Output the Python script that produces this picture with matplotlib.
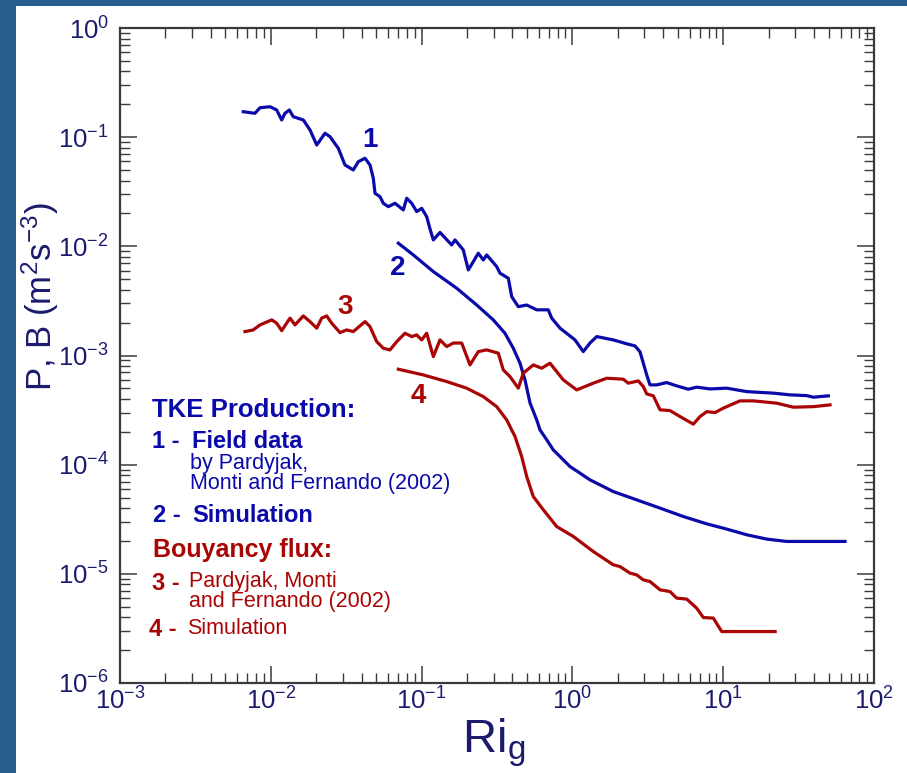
import matplotlib
matplotlib.use("Agg")
import matplotlib.pyplot as plt
from matplotlib.patches import Rectangle
from matplotlib.ticker import LogLocator, NullFormatter

plt.rcParams['font.family'] = ['Liberation Sans', 'DejaVu Sans']
plt.rcParams['mathtext.fontset'] = 'custom'
plt.rcParams['mathtext.rm'] = 'Liberation Sans'
plt.rcParams['mathtext.it'] = 'Liberation Sans:italic'
plt.rcParams['mathtext.bf'] = 'Liberation Sans:bold'

# ---- data: curve 1, TKE production, field data ----
field_p_x = [0.00657, 0.00785, 0.00848, 0.00988, 0.01094, 0.01181, 0.01242, 0.01327, 0.01409,
             0.01643, 0.0182, 0.02016, 0.02288, 0.0247, 0.02803, 0.03105, 0.03524, 0.03805,
             0.04214, 0.04548, 0.04783, 0.0491, 0.05298, 0.0557, 0.06013, 0.06662, 0.07562,
             0.07965, 0.086, 0.0928, 0.1002, 0.1081, 0.1137, 0.1196, 0.1324, 0.1583, 0.1665,
             0.189, 0.204, 0.2203, 0.2377, 0.2566, 0.2702, 0.3148, 0.3311, 0.3758, 0.3958,
             0.4377, 0.4977, 0.58, 0.692, 0.729, 0.828, 1.04, 1.181, 1.308, 1.449, 1.867,
             2.292, 2.601, 2.808, 2.953, 3.11, 3.27, 3.62, 4.22, 4.915, 5.87, 6.67, 8.18,
             10.55, 14.31, 21.5, 27.7, 35.8, 39.6, 49.8]
field_p_y = [0.171, 0.1655, 0.186, 0.190, 0.1775, 0.1437, 0.1655, 0.1775, 0.154,
             0.1437, 0.1164, 0.0848, 0.1086, 0.101, 0.0791, 0.0556, 0.0501, 0.0596,
             0.0641, 0.0556, 0.0420, 0.0306, 0.0285, 0.0248, 0.0231, 0.0248, 0.02154,
             0.02757, 0.0248, 0.0208, 0.0223, 0.0187, 0.01443, 0.01145, 0.01341, 0.0103, 0.01145,
             0.00927, 0.00608, 0.00724, 0.00865, 0.0075, 0.00834, 0.00652, 0.00567, 0.0051, 0.00346,
             0.0028, 0.0029, 0.00262, 0.00262, 0.0022, 0.00178, 0.00139, 0.001086, 0.0013, 0.00149, 0.00139,
             0.00128, 0.001224, 0.00108, 0.00085, 0.000664, 0.000538, 0.000538, 0.000565, 0.000527,
             0.000491, 0.000513, 0.000494, 0.000502, 0.000467, 0.000452, 0.000436, 0.000429,
             0.000415, 0.000427]

# ---- curve 2, TKE production, simulation ----
sim_p_x = [0.0701, 0.0881, 0.1196, 0.171, 0.232, 0.2988, 0.357, 0.4055, 0.4493, 0.485,
           0.5234, 0.58, 0.61, 0.6755, 0.7467, 0.828, 0.964, 1.123, 1.308, 1.867, 2.669,
           3.81, 5.44, 7.78, 10.55, 14.31, 19.44, 26.4, 39.6, 64.2]
sim_p_y = [0.01068, 0.00834, 0.00587, 0.00413, 0.0029, 0.00212, 0.0016, 0.001166, 0.00085,
           0.000598, 0.000368, 0.000257, 0.000208, 0.000169, 0.0001366, 0.0001186, 9.61e-5,
           8.36e-5, 7.26e-5, 5.67e-5, 4.76e-5, 4.0e-5, 3.35e-5, 2.87e-5, 2.57e-5, 2.28e-5,
           2.08e-5, 1.98e-5, 1.98e-5, 1.98e-5]

# ---- curve 3, buoyancy flux, field data ----
field_b_x = [0.00674, 0.00766, 0.00848, 0.01014, 0.01094, 0.01181, 0.01341, 0.01447, 0.01643,
             0.0182, 0.02016, 0.02175, 0.02348, 0.02534, 0.02877, 0.03187, 0.03524, 0.04214,
             0.04548, 0.05039, 0.0557, 0.06172, 0.0684, 0.0776, 0.086, 0.0928, 0.1002, 0.1081,
             0.1196, 0.1324, 0.1467, 0.1623, 0.1845, 0.2094, 0.2377, 0.2702, 0.3226, 0.348,
             0.3857, 0.4377, 0.4724, 0.5505, 0.6257, 0.7103, 0.870, 1.068, 1.376, 1.688, 2.175,
             2.348, 2.735, 2.953, 3.11, 3.44, 3.81, 4.437, 5.17, 6.34, 7.02, 7.78, 8.82, 10.0,
             12.92, 15.83, 22.6, 29.2, 39.6, 51.1]
field_b_y = [0.001656, 0.001716, 0.001906, 0.00212, 0.001976, 0.00169, 0.0022, 0.001906, 0.002305,
             0.002044, 0.00178, 0.0022, 0.002305, 0.001976, 0.00162, 0.001716, 0.001656, 0.002044,
             0.00184, 0.00134, 0.001166, 0.001125, 0.00134, 0.0016, 0.00149, 0.001544, 0.00139, 0.0016,
             0.000977, 0.00139, 0.001207, 0.0013, 0.0013, 0.00082, 0.001086, 0.001125, 0.00105, 0.000738,
             0.000641, 0.000502, 0.000689, 0.00082, 0.000765, 0.00085, 0.000598, 0.000484, 0.000558,
             0.000619, 0.000607, 0.000558, 0.000585, 0.000519, 0.000445, 0.000427, 0.000318, 0.000313,
             0.000276, 0.000235, 0.000276, 0.000306, 0.0003, 0.000329, 0.000384, 0.000384, 0.000366,
             0.000336, 0.00034, 0.000353]

# ---- curve 4, buoyancy flux, simulation ----
sim_b_x = [0.0701, 0.1026, 0.1467, 0.199, 0.2566, 0.3148, 0.3667, 0.4164, 0.4611, 0.4977,
           0.5505, 0.6414, 0.787, 1.014, 1.376, 1.867, 2.068, 2.41, 2.669, 2.953, 3.27, 3.81,
           4.437, 4.915, 5.73, 6.67, 7.38, 8.6, 9.77, 14.31, 22.1]
sim_b_y = [0.000749, 0.000664, 0.000577, 0.000502, 0.00042, 0.00034, 0.000257, 0.000181,
           0.0001186, 7.78e-5, 5.1e-5, 3.86e-5, 2.71e-5, 2.2e-5, 1.6e-5, 1.21e-5, 1.166e-5,
           1.015e-5, 9.79e-6, 8.81e-6, 8.5e-6, 7.14e-6, 6.88e-6, 5.99e-6, 5.87e-6, 4.85e-6,
           3.98e-6, 3.93e-6, 2.96e-6, 2.96e-6, 2.96e-6]

x_limits = (1e-3, 1e2)
y_limits = (1e-6, 1e0)

BLUE = '#0A0AAA'
RED = '#AA0505'
NAVY = '#1B1B6E'
BG = '#265C8E'
AXC = '#3A3A3A'

W, H = 907, 773
fig = plt.figure(figsize=(W / 100, H / 100), dpi=100, facecolor=BG)
fig.patches.append(Rectangle((16 / W, 0), 1 - 16 / W, (H - 6) / H, transform=fig.transFigure,
                             facecolor='white', edgecolor='none', zorder=-10))

ax = fig.add_axes([120 / W, 1 - 683 / H, (874 - 120) / W, (683 - 28) / H])
ax.set_zorder(1)
ax.set_facecolor('white')
ax.set_xscale('log')
ax.set_yscale('log')
ax.set_xlim(*x_limits)
ax.set_ylim(*y_limits)

lw = 2.3
ax.plot(field_p_x, field_p_y, color=BLUE, lw=lw, solid_joinstyle='round')
ax.plot(sim_p_x, sim_p_y, color=BLUE, lw=lw)
ax.plot(field_b_x, field_b_y, color=RED, lw=lw, solid_joinstyle='round')
ax.plot(sim_b_x, sim_b_y, color=RED, lw=lw)

for s in ax.spines.values():
    s.set_color(AXC)
    s.set_linewidth(1.6)

ax.xaxis.set_major_locator(LogLocator(base=10, numticks=10))
ax.yaxis.set_major_locator(LogLocator(base=10, numticks=10))
ax.xaxis.set_minor_locator(LogLocator(base=10, subs=range(2, 10), numticks=20))
ax.yaxis.set_minor_locator(LogLocator(base=10, subs=range(2, 10), numticks=20))
ax.xaxis.set_minor_formatter(NullFormatter())
ax.yaxis.set_minor_formatter(NullFormatter())
ax.tick_params(which='both', direction='in', top=True, right=True, color=AXC)
ax.tick_params(which='major', length=12.5, width=1.1, labelsize=18.5, labelcolor=NAVY)
ax.tick_params(which='minor', length=7, width=1.0)
ax.tick_params(axis='x', which='major', pad=3)
ax.tick_params(axis='y', which='major', pad=8)


def T(xp, yp, s, color, size, weight='normal', ha='left', va='center', **kw):
    fig.text(xp / W, 1 - yp / H, s, color=color, fontsize=size, fontweight=weight,
             ha=ha, va=va, zorder=5, **kw)


# axis labels
T(40, 297, r'P, B (m$^{2}$s$^{-3}$)', NAVY, 25, ha='center', rotation=90)
T(494, 743, r'Ri$_{\mathregular{g}}$', NAVY, 34, ha='center')

# curve numbers
T(370, 140, '1', BLUE, 20, 'bold', ha='center')
T(398, 268, '2', BLUE, 20, 'bold', ha='center')
T(345, 307, '3', RED, 20, 'bold', ha='center')
T(418, 396, '4', RED, 20, 'bold', ha='center')

# annotation block
T(152, 410, 'TKE Production:', BLUE, 18.5, 'bold')
T(152, 441, '1 -', BLUE, 17, 'bold')
T(192, 441, 'Field data', BLUE, 17, 'bold')
T(190, 463, 'by Pardyjak,', BLUE, 15.5)
T(190, 484, 'Monti and Fernando (2002)', BLUE, 15.5)
T(153, 516, '2 -', BLUE, 17, 'bold')
T(192, 516, 'Simulation', BLUE, 17, 'bold')
T(153, 550, 'Bouyancy flux:', RED, 18, 'bold')
T(152, 583, '3 -', RED, 17, 'bold')
T(189, 581, 'Pardyjak, Monti', RED, 15.5)
T(189, 602, 'and Fernando (2002)', RED, 15.5)
T(149, 629, '4 -', RED, 17, 'bold')
T(187, 628, 'Simulation', RED, 15.5)

fig.savefig('out.png', dpi=100, facecolor=BG)
